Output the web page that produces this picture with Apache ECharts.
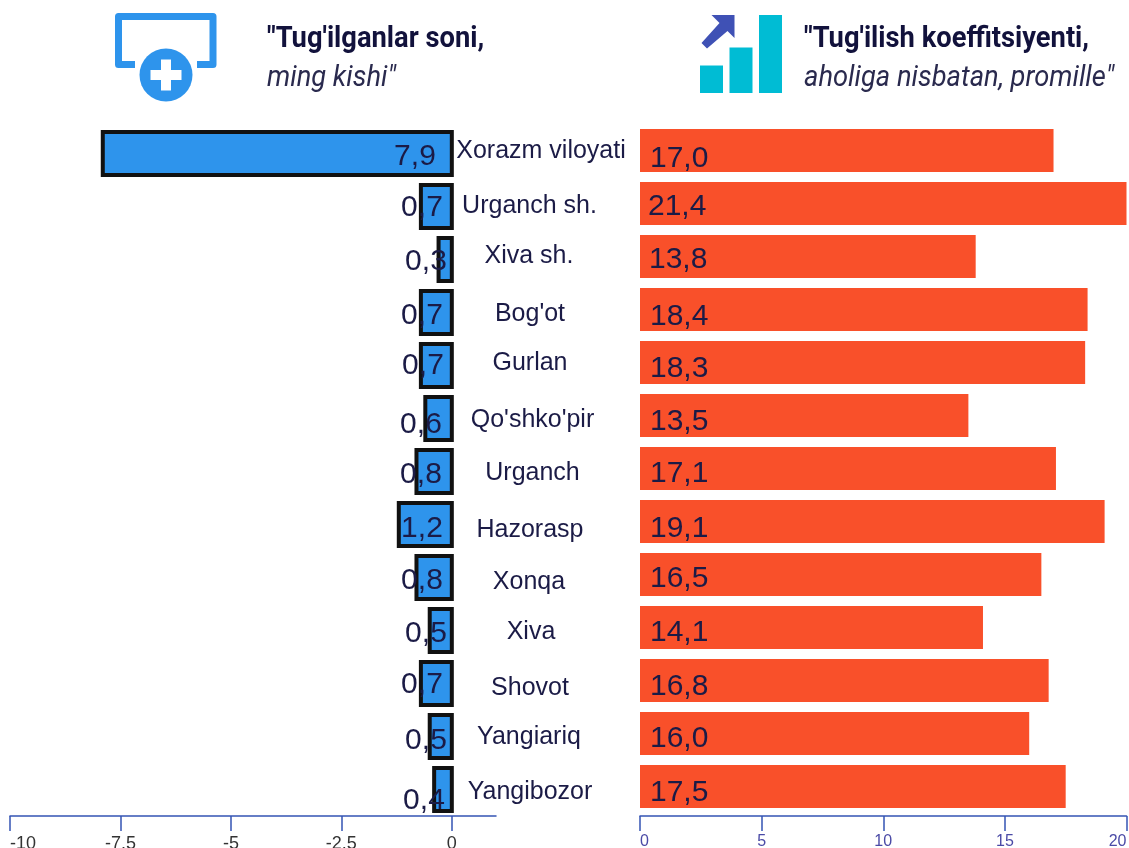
<!DOCTYPE html>
<html>
<head>
<meta charset="utf-8">
<title>Tug'ilganlar soni</title>
<script src="https://cdn.jsdelivr.net/npm/echarts@6/dist/echarts.min.js"></script>
<style>
  html, body { margin: 0; padding: 0; background: #fff; }
  #main { width: 1129px; height: 848px; overflow: hidden; }
</style>
</head>
<body>
<div id="main"></div>
<script>
const regions = ['Xorazm viloyati', 'Urganch sh.', 'Xiva sh.', "Bog'ot", 'Gurlan', "Qo'shko'pir", 'Urganch', 'Hazorasp', 'Xonqa', 'Xiva', 'Shovot', 'Yangiariq', 'Yangibozor']
const births = [7.9, 0.7, 0.3, 0.7, 0.7, 0.6, 0.8, 1.2, 0.8, 0.5, 0.7, 0.5, 0.4]
const birthRate = [17.0, 21.4, 13.8, 18.4, 18.3, 13.5, 17.1, 19.1, 16.5, 14.1, 16.8, 16.0, 17.5]
const birthTicks = [-10, -7.5, -5, -2.5, 0]
const rateTicks = [0, 5, 10, 15, 20]

// the labels in the original were placed by hand, so each row gets its own nudge
const birthLabelDx = [-7, 0, 4, 0, 1, -1, -1, 0, 0, 4, 0, 4, 2]
const birthLabelDy = [3, 1, 2, 3, 0, 6, 3, 4, 3, 3, 1, 4, 11]
const rateLabelDx = [0, -2, -1, 0, 0, 0, 0, 0, 0, 0, 0, 0, 0]
const rateLabelDy = [8, 3, 3, 7, 6, 6, 5, 7, 4, 5, 6, 5, 6]
const nameDx = [11, -0.5, -1, 0, 0, 2.5, 2.5, 0, -1, 1, 0, -1, 0]
const nameDy = [0.5, 2.5, -0.5, 4.5, 0.5, 4.5, 4.5, 8.5, 7.5, 4.5, 7.5, 3.5, 5.5]

const textColor = '#1b1b46'
const axisColor = '#3454b4'
const numFont = '"Liberation Sans", Arial, sans-serif'
const barHeight = 43

function comma (v) {
  return v.toFixed(1).replace('.', ',')
}

function axisCommon (ticks, labelColor, labelSize, labelMargin, maxAlign) {
  return {
    type: 'value',
    splitLine: { show: false },
    axisLine: { show: true, onZero: false, lineStyle: { color: axisColor, width: 1.5 } },
    axisTick: { show: true, customValues: ticks, length: 15, lineStyle: { color: axisColor, width: 1.5 } },
    axisLabel: {
      customValues: ticks,
      color: labelColor,
      fontSize: labelSize,
      fontFamily: numFont,
      margin: labelMargin,
      alignMinLabel: 'left',
      alignMaxLabel: maxAlign
    }
  }
}

function yCommon (gridIndex) {
  return {
    type: 'category',
    gridIndex: gridIndex,
    inverse: true,
    data: regions,
    show: false
  }
}

// echarts pulls a bar's border inside the bar, the original has it centred on the edge.
// the value text goes here too so it stays on top of the black border
function birthOutline (params, api) {
  let i = params.dataIndex
  let end = api.coord([api.value(0), api.value(1)])
  let zero = api.coord([0, api.value(1)])
  return {
    type: 'group',
    children: [
      {
        type: 'rect',
        shape: { x: end[0], y: end[1] - barHeight / 2, width: zero[0] - end[0], height: barHeight },
        style: { fill: null, stroke: '#111', lineWidth: 4 }
      },
      {
        type: 'text',
        x: zero[0] - 9 + birthLabelDx[i],
        y: end[1] + birthLabelDy[i],
        style: {
          text: comma(births[i]),
          fill: textColor,
          font: '30px ' + numFont,
          align: 'right',
          verticalAlign: 'middle'
        }
      }
    ]
  }
}

let myChart = echarts.init(document.getElementById('main'), null, { renderer: 'canvas' })
myChart.setOption({
  animation: false,
  backgroundColor: '#fff',
  grid: [
    { left: 10, width: 486, top: 127, height: 689, outerBoundsMode: 'none' },
    { left: 640, width: 486.5, top: 124, height: 689, outerBoundsMode: 'none' },
    { left: 500, width: 60, top: 124, height: 689, outerBoundsMode: 'none' }
  ],
  xAxis: [
    Object.assign(axisCommon(birthTicks, '#333', 18, 19, 'center'), { gridIndex: 0, min: -10, max: 1, interval: 2.5 }),
    Object.assign(axisCommon(rateTicks, '#4a4aa6', 16, 18, 'right'), { gridIndex: 1, min: 0, max: 20, interval: 5, offset: 3 }),
    { type: 'value', gridIndex: 2, min: 0, max: 1, show: false }
  ],
  yAxis: [yCommon(0), yCommon(1), yCommon(2)],
  series: [
    {
      name: 'Tug\'ilganlar soni',
      type: 'bar',
      xAxisIndex: 0,
      yAxisIndex: 0,
      barWidth: barHeight,
      z: 2,
      itemStyle: { color: '#2e94ec' },
      data: births.map((v) => -v)
    },
    {
      name: 'outline',
      type: 'custom',
      xAxisIndex: 0,
      yAxisIndex: 0,
      z: 3,
      silent: true,
      clip: false,
      renderItem: birthOutline,
      encode: { x: 0, y: 1 },
      data: births.map((v, i) => [-v, i])
    },
    {
      name: 'Tug\'ilish koeffitsiyenti',
      type: 'bar',
      xAxisIndex: 1,
      yAxisIndex: 1,
      barWidth: barHeight,
      itemStyle: { color: '#f9502a' },
      data: birthRate.map((v, i) => ({
        value: v,
        label: { offset: [rateLabelDx[i], rateLabelDy[i]] }
      })),
      label: {
        show: true,
        position: 'insideLeft',
        distance: 10,
        color: textColor,
        fontSize: 30,
        fontFamily: numFont,
        formatter: (p) => comma(p.value)
      }
    },
    {
      name: 'names',
      type: 'scatter',
      xAxisIndex: 2,
      yAxisIndex: 2,
      symbolSize: 1,
      itemStyle: { color: 'transparent', opacity: 1 },
      silent: true,
      data: regions.map((name, i) => ({
        value: [0.5, name],
        label: { offset: [nameDx[i], nameDy[i]] }
      })),
      label: {
        show: true,
        position: 'inside',
        color: textColor,
        fontSize: 25,
        fontFamily: numFont,
        formatter: (p) => p.value[1]
      }
    }
  ],
  graphic: [
    // left icon
    { type: 'polyline', shape: { points: [[135, 64.5], [118.5, 64.5], [118.5, 16.5], [213, 16.5], [213, 64.5], [197, 64.5]] }, style: { fill: null, stroke: '#2e94ec', lineWidth: 7, lineJoin: 'round' } },
    { type: 'circle', shape: { cx: 166, cy: 75, r: 26.5 }, style: { fill: '#2e94ec' } },
    { type: 'rect', shape: { x: 150.5, y: 70, width: 31, height: 10 }, style: { fill: '#fff' } },
    { type: 'rect', shape: { x: 161, y: 59.5, width: 10, height: 31 }, style: { fill: '#fff' } },
    // right icon
    { type: 'rect', shape: { x: 700, y: 65.5, width: 23, height: 27.5 }, style: { fill: '#00bcd4' } },
    { type: 'rect', shape: { x: 729.5, y: 47.5, width: 23, height: 45.5 }, style: { fill: '#00bcd4' } },
    { type: 'rect', shape: { x: 759, y: 15, width: 23, height: 78 }, style: { fill: '#00bcd4' } },
    { type: 'polygon', shape: { points: [[711.5, 15], [734.5, 15], [734.5, 38], [727.5, 31], [707, 48.5], [701.5, 43], [719.5, 23]] }, style: { fill: '#3f51b5' } },
    // headings, no Roboto Condensed here so plain Roboto is squeezed
    { type: 'text', x: 267, y: 39, scaleX: 0.91, style: { text: '"Tug\'ilganlar soni,', fill: '#12123c', font: 'bold 30px Roboto', textVerticalAlign: 'middle' } },
    { type: 'text', x: 267, y: 78, scaleX: 0.91, style: { text: 'ming kishi"', fill: '#2a2a4e', font: 'italic 30px Roboto', textVerticalAlign: 'middle' } },
    { type: 'text', x: 804, y: 39, scaleX: 0.91, style: { text: '"Tug\'ilish koeffitsiyenti,', fill: '#12123c', font: 'bold 30px Roboto', textVerticalAlign: 'middle' } },
    { type: 'text', x: 804, y: 78, scaleX: 0.91, style: { text: 'aholiga nisbatan, promille"', fill: '#2a2a4e', font: 'italic 30px Roboto', textVerticalAlign: 'middle' } }
  ]
})
</script>
</body>
</html>
